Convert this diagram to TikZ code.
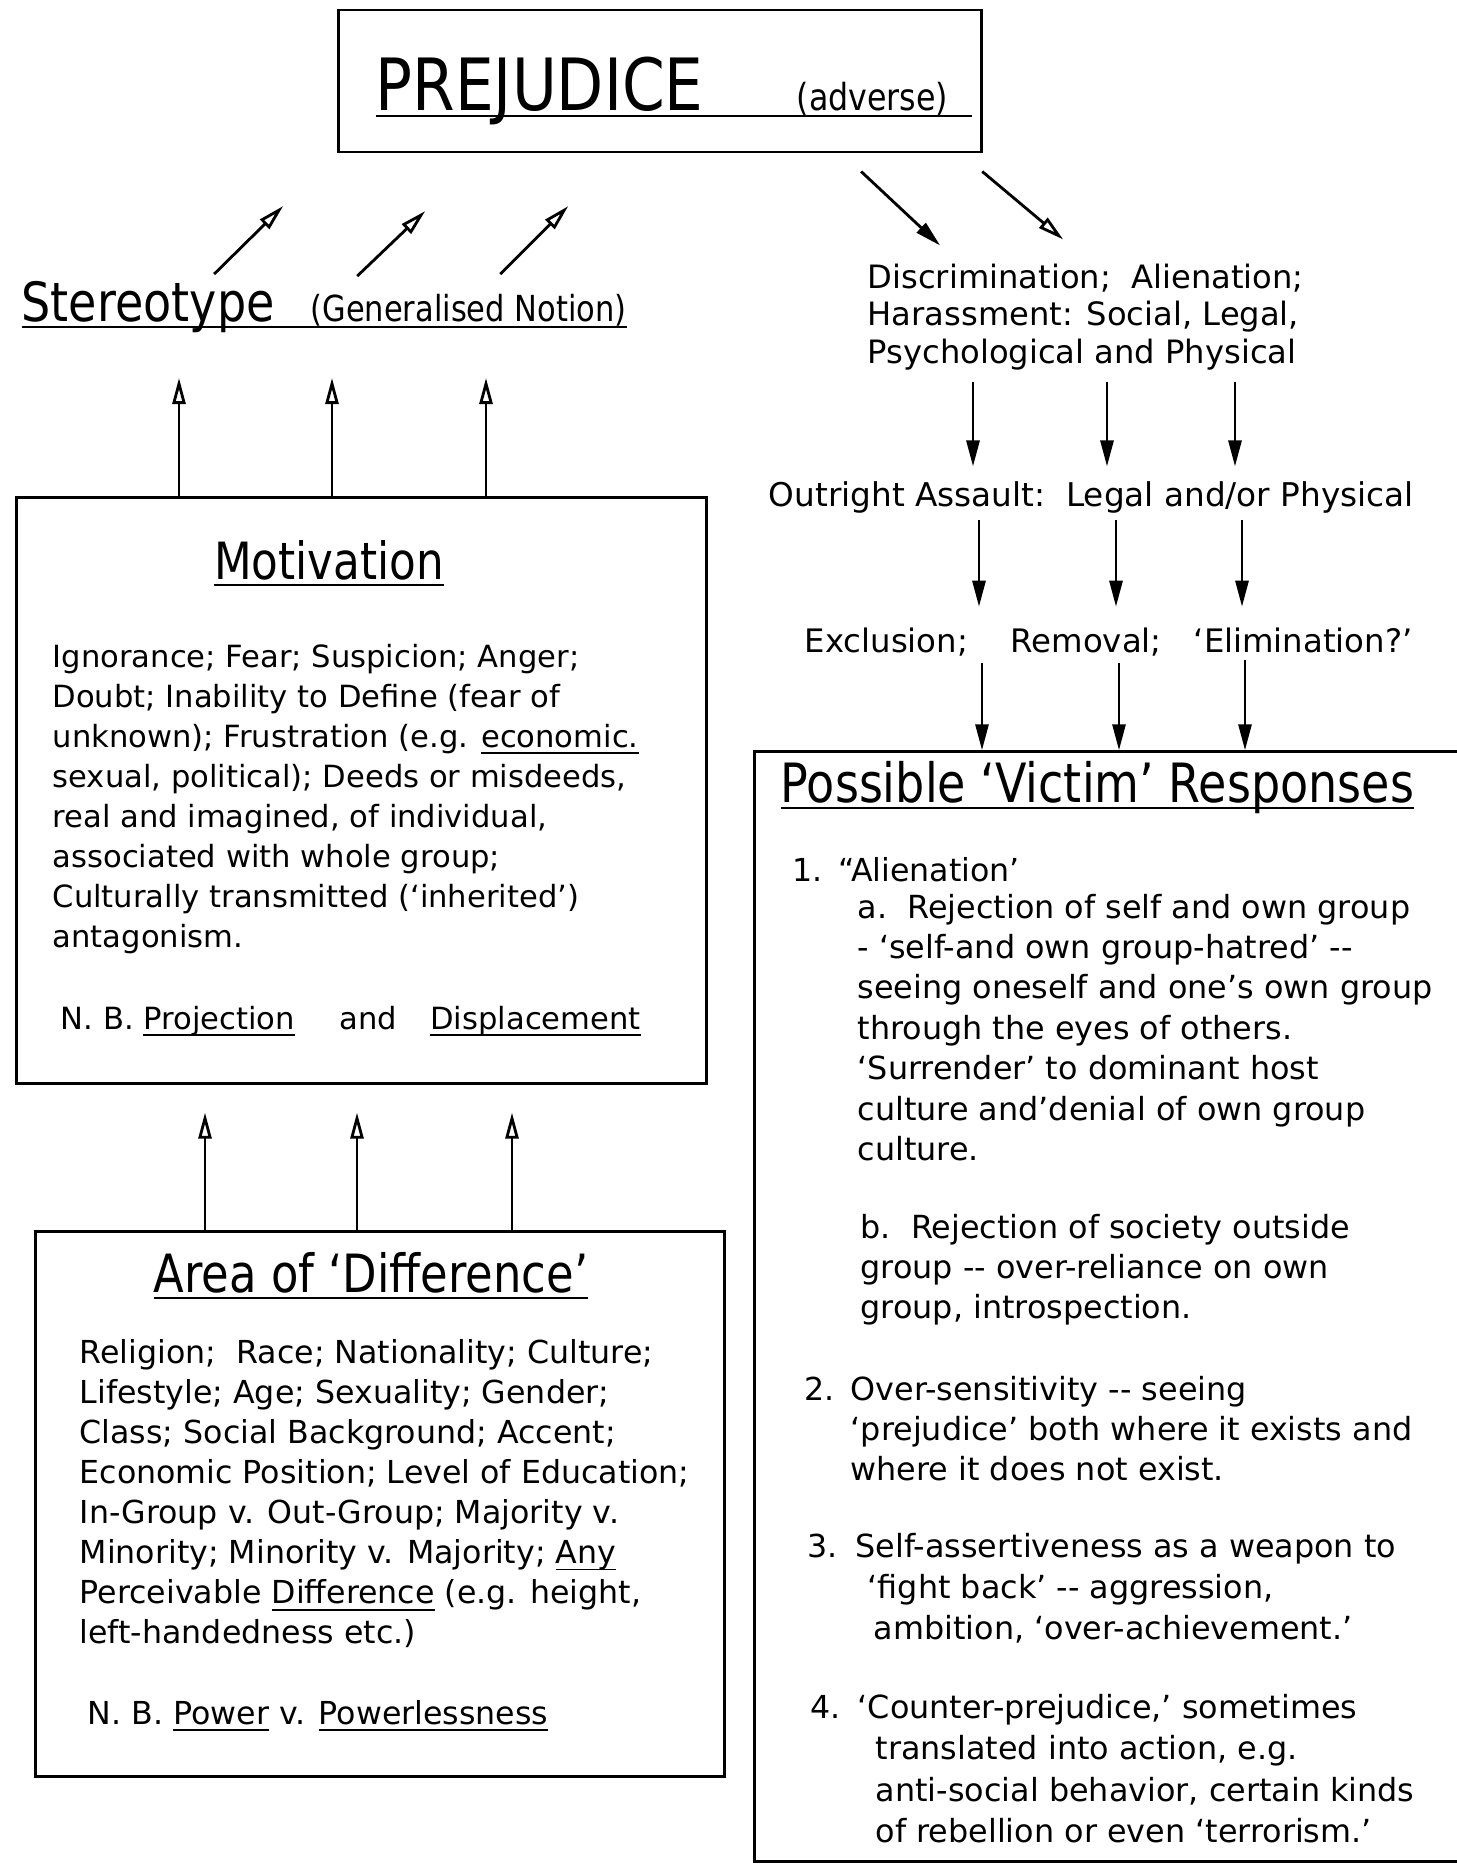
\documentclass[tikz,border=0pt]{standalone}
\usepackage{fontspec}
\setmainfont{DejaVu Sans}
\newfontfamily\headfont[FakeStretch=0.85,Ligatures=TeX]{DejaVu Sans}
\usetikzlibrary{arrows.meta,positioning,calc}
\newcommand{\fsz}[2]{\fontsize{#1}{#2}\selectfont}
\newcommand{\textlines}[1]{\begin{tabular}[t]{@{}l@{}}#1\end{tabular}}
\newcommand{\undl}[1]{\mbox{\setbox0=\hbox{#1}\rlap{\rule[-2pt]{\wd0}{0.5pt}}\box0}}

\begin{document}
\begin{tikzpicture}[x=0.01cm,y=-0.01cm,
  frame/.style={draw,line width=0.8pt,inner sep=0pt},
  txt/.style={inner sep=0pt,anchor=base west,font=\fsz{9}{11.4}},
  head/.style={inner sep=0pt,anchor=base,font=\headfont\fsz{15}{18}},
  uparr/.style={line width=0.8pt,-{Triangle[open,length=0.26cm,width=0.13cm]}},
  downarr/.style={line width=0.8pt,-{Triangle[length=0.26cm,width=0.13cm]}}]
  \useasboundingbox (0,0) rectangle (1456,1866);

  % top box
  \node[frame,minimum width=6.43cm,minimum height=1.42cm] (prej) at (660,81) {};
  \node[txt,font=\headfont\fsz{20.5}{24}] (prejt) at (375,110) {\undl{PREJUDICE\hspace{0.93cm}\fsz{10.6}{12}(adverse)\hspace{0.24cm}}};

  % left column
  \node[txt,font=\headfont\fsz{15.4}{18}] (stereo) at (21,321) {\undl{Stereotype\hspace{0.36cm}\fsz{10.2}{12}(Generalised Notion)}};

  \node[frame,minimum width=6.89cm,minimum height=5.85cm] (mot) at (361.5,790.5) {};
  \node[head,font=\headfont\fsz{14.6}{18}] (mothead) at (329,579) {\undl{Motivation}};
  \node[txt,font=\fsz{8.7}{11.4}] (mottxt) at (52,667) {\textlines{Ignorance; Fear; Suspicion; Anger;\\Doubt; Inability to Define (fear of\\unknown); Frustration (e.g. \undl{economic.}\\sexual, political); Deeds or misdeeds,\\real and imagined, of individual,\\associated with whole group;\\Culturally transmitted (`inherited')\\antagonism.}};
  \node[txt,font=\fsz{8.7}{11.4}] (motnb) at (60,1029) {N. B. \undl{Projection}\hspace{0.45cm}and\hspace{0.33cm}\undl{Displacement}};

  \node[frame,minimum width=6.88cm,minimum height=5.44cm] (area) at (380,1504) {};
  \node[head] (areahead) at (371,1292) {\undl{Area of `Difference'}};
  \node[txt] (areatxt) at (79,1363) {\textlines{Religion;\ \ Race; Nationality; Culture;\\Lifestyle; Age; Sexuality; Gender;\\Class; Social Background; Accent;\\Economic Position; Level of Education;\\In-Group v. Out-Group; Majority v.\\Minority; Minority v. Majority; \undl{Any}\\Perceivable \undl{Difference} (e.g. height,\\left-handedness etc.)}};
  \node[txt] (areanb) at (87,1724) {N. B. \undl{Power} v. \undl{Powerlessness}};

  % right column
  \node[txt,font=\fsz{9.15}{10.8}] (disc) at (867,288) {\textlines{Discrimination;\ \ Alienation;\\Harassment: Social, Legal,\\Psychological and Physical}};
  \node[txt,font=\fsz{9.3}{11}] (out) at (768,506) {Outright Assault:\ \ Legal and/or Physical};
  \node[txt,font=\fsz{9.2}{11}] (excl) at (804,652) {Exclusion;};
  \node[txt,font=\fsz{9.2}{11}] (remov) at (1010,652) {Removal;};
  \node[txt,font=\fsz{9.2}{11}] (elim) at (1193,652) {`Elimination?'};

  \node[frame,minimum width=7.45cm,minimum height=11.09cm] (resp) at (1127.5,1306.5) {};
  \node[txt,font=\headfont\fsz{15.4}{18}] (resphead) at (780,802) {\undl{Possible `Victim' Responses}};
  \node[txt] (r1n) at (792,881) {1.};
  \node[txt] (r1) at (838,881) {``Alienation'};
  \node[txt,font=\fsz{9.05}{11.5}] (r1a) at (857,918) {\textlines{a.\ \ Rejection of self and own group\\- `self-and own group-hatred' -{}-\\seeing oneself and one's own group\\through the eyes of others.\\`Surrender' to dominant host\\culture and'denial of own group\\culture.}};
  \node[txt,font=\fsz{9.05}{11.5}] (r1b) at (860,1238) {\textlines{b.\ \ Rejection of society outside\\group -{}- over-reliance on own\\group, introspection.}};
  \node[txt] (r2n) at (804,1400) {2.};
  \node[txt,font=\fsz{9.05}{11.5}] (r2) at (850,1400) {\textlines{Over-sensitivity -{}- seeing\\`prejudice' both where it exists and\\where it does not exist.}};
  \node[txt] (r3n) at (807,1557) {3.};
  \node[txt,font=\fsz{9.05}{11.7}] (r3) at (855,1557) {\textlines{Self-assertiveness as a weapon to\\\hspace*{0.12cm}`fight back' -{}- aggression,\\\hspace*{0.18cm}ambition, `over-achievement.'}};
  \node[txt] (r4n) at (810,1718) {4.};
  \node[txt,font=\fsz{9.05}{11.8}] (r4) at (857,1718) {\textlines{`Counter-prejudice,' sometimes\\\hspace*{0.18cm}translated into action, e.g.\\\hspace*{0.18cm}anti-social behavior, certain kinds\\\hspace*{0.18cm}of rebellion or even `terrorism.'}};

  % arrows, left column
  \draw[uparr] ([xshift=1.93cm,yshift=0.06cm]stereo.north west) -- ++(69,-68);
  \draw[uparr] ([xshift=3.36cm,yshift=0.04cm]stereo.north west) -- ++(68,-65);
  \draw[uparr] ([xshift=4.79cm,yshift=0.06cm]stereo.north west) -- ++(68,-68);
  \draw[uparr,shorten >=0.45cm] (179,0 |- mot.north) -- (179,0 |- stereo.south);
  \draw[uparr,shorten >=0.45cm] (332,0 |- mot.north) -- (332,0 |- stereo.south);
  \draw[uparr,shorten >=0.45cm] (486,0 |- mot.north) -- (486,0 |- stereo.south);
  \draw[uparr,shorten >=0.28cm] (205,0 |- area.north) -- (205,0 |- mot.south);
  \draw[uparr,shorten >=0.28cm] (357,0 |- area.north) -- (357,0 |- mot.south);
  \draw[uparr,shorten >=0.28cm] (512,0 |- area.north) -- (512,0 |- mot.south);

  % arrows, right column
  \draw[downarr] ([xshift=2.01cm,yshift=-0.18cm]prej.south) -- ++(79,74);
  \draw[uparr] ([xshift=3.22cm,yshift=-0.18cm]prej.south) -- ++(81,68);
  \draw[downarr,shorten <=0.06cm,shorten >=0.14cm] (973,0 |- disc.south) -- (973,0 |- out.north);
  \draw[downarr,shorten <=0.06cm,shorten >=0.14cm] (1107,0 |- disc.south) -- (1107,0 |- out.north);
  \draw[downarr,shorten <=0.06cm,shorten >=0.14cm] (1235,0 |- disc.south) -- (1235,0 |- out.north);
  \draw[downarr,shorten <=0.06cm,shorten >=0.2cm] (979,0 |- out.south) -- (979,0 |- excl.north);
  \draw[downarr,shorten <=0.06cm,shorten >=0.2cm] (1116,0 |- out.south) -- (1116,0 |- remov.north);
  \draw[downarr,shorten <=0.06cm,shorten >=0.2cm] (1242,0 |- out.south) -- (1242,0 |- elim.north);
  \draw[downarr,shorten <=0.07cm] (982,0 |- excl.south) -- (982,0 |- resp.north);
  \draw[downarr,shorten <=0.07cm] (1119,0 |- remov.south) -- (1119,0 |- resp.north);
  \draw[downarr,shorten <=0.07cm] (1245,0 |- elim.south) -- (1245,0 |- resp.north);
\end{tikzpicture}
\end{document}
